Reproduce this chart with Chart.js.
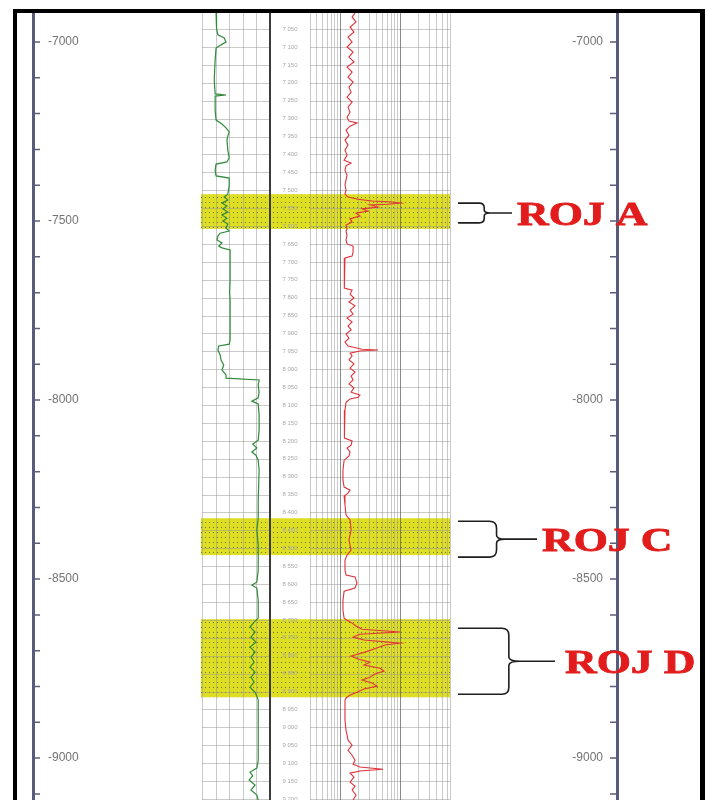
<!DOCTYPE html>
<html>
<head>
<meta charset="utf-8">
<title>Well log – ROJ intervals</title>
<script src="https://cdn.jsdelivr.net/npm/chart.js@4/dist/chart.umd.min.js"></script>
<style>
  html, body { margin: 0; padding: 0; background: #fff; }
  #wrap { position: relative; width: 708px; height: 800px; }
</style>
</head>
<body>
<div id="wrap"><canvas id="log" width="708" height="800"></canvas></div>
<script>
// ---- Subsea depth axis (ft) ----
const depthMin = -9117;
const depthMax = -6919;
const depthTicks = [-9100, -9000, -8900, -8800, -8700, -8600, -8500, -8400, -8300, -8200, -8100,
                    -8000, -7900, -7800, -7700, -7600, -7500, -7400, -7300, -7200, -7100, -7000];
const depthLabelsLeft = [-7000, -7500, -8000, -8500, -9000];
const depthLabelsRight = [-7000, -8000, -8500, -9000];

// ---- Measured-depth grid of the log (ft) and KB offset ----
const kbOffset = 86;
const mdGrid = [7050, 7100, 7150, 7200, 7250, 7300, 7350, 7400, 7450, 7500,
                7550, 7600, 7650, 7700, 7750, 7800, 7850, 7900, 7950, 8000,
                8050, 8100, 8150, 8200, 8250, 8300, 8350, 8400, 8450, 8500,
                8550, 8600, 8650, 8700, 8750, 8800, 8850, 8900, 8950, 9000,
                9050, 9100, 9150, 9200];

// ---- Reservoir intervals (subsea ft) ----
const zoneNames = ['ROJ A', 'ROJ C', 'ROJ D'];
const zoneTop = [-7425, -8330, -8612];
const zoneBase = [-7522, -8433, -8830];

// ---- Track grid values ----
const grGrid = [0, 30, 60, 90, 120, 150];
const resGrid = [0.4, 0.5, 0.6, 0.7, 0.8, 0.9, 1, 2, 3, 4, 5, 6, 7, 8, 9, 10, 20, 30, 40, 50, 60];

// ---- Gamma ray curve (API) ----
const grDepth = [
  -6919, -6939, -6961, -6980, -6989, -7000, -7008, -7017, -7050, -7106,
  -7145, -7148, -7151, -7190, -7218, -7229, -7240, -7251, -7263, -7274,
  -7302, -7324, -7335, -7341, -7358, -7374, -7380, -7402, -7425, -7433,
  -7441, -7450, -7458, -7466, -7475, -7483, -7492, -7500, -7508, -7520,
  -7528, -7534, -7542, -7553, -7561, -7570, -7575, -7581, -7609, -7665,
  -7698, -7721, -7777, -7832, -7844, -7849, -7860, -7874, -7888, -7902,
  -7916, -7930, -7939, -7944, -7958, -7978, -7994, -8003, -8011, -8042,
  -8084, -8112, -8123, -8134, -8145, -8154, -8168, -8196, -8279, -8330,
  -8363, -8405, -8433, -8475, -8508, -8517, -8525, -8559, -8609, -8620,
  -8634, -8648, -8662, -8676, -8690, -8704, -8718, -8732, -8746, -8760,
  -8774, -8788, -8802, -8816, -8827, -8838, -8894, -8950, -9006, -9028,
  -9039, -9050, -9061, -9075, -9089, -9103, -9117];
const grValue = [
  31, 33, 31, 35, 49, 53, 42, 31, 29, 27,
  29, 53, 29, 29, 31, 44, 53, 60, 57, 55,
  57, 60, 55, 31, 29, 31, 60, 60, 57, 49,
  57, 44, 55, 46, 57, 44, 55, 46, 57, 53,
  60, 40, 35, 33, 44, 37, 44, 62, 62, 62,
  61, 62, 62, 62, 60, 37, 35, 40, 42, 48,
  44, 53, 53, 126, 124, 126, 124, 110, 124, 126,
  126, 124, 112, 121, 110, 119, 124, 126, 124, 124,
  121, 124, 124, 124, 121, 110, 121, 124, 124, 115,
  106, 117, 108, 119, 106, 117, 108, 115, 106, 117,
  108, 115, 106, 117, 121, 124, 124, 124, 124, 121,
  106, 112, 104, 117, 108, 121, 124];

// ---- Resistivity curve (ohm.m) ----
const resDepth = [
  -6919, -6930, -6944, -6958, -6972, -6986, -7000, -7014, -7028, -7042,
  -7056, -7070, -7084, -7098, -7112, -7126, -7140, -7154, -7168, -7182,
  -7196, -7210, -7221, -7226, -7235, -7246, -7260, -7274, -7288, -7302,
  -7316, -7330, -7338, -7346, -7358, -7372, -7385, -7399, -7413, -7425,
  -7433, -7439, -7444, -7447, -7450, -7453, -7455, -7461, -7466, -7472,
  -7478, -7486, -7494, -7503, -7511, -7522, -7528, -7539, -7553, -7564,
  -7570, -7587, -7598, -7603, -7615, -7637, -7665, -7687, -7693, -7704,
  -7715, -7726, -7737, -7749, -7760, -7771, -7782, -7793, -7804, -7816,
  -7827, -7838, -7849, -7858, -7860, -7863, -7869, -7877, -7888, -7899,
  -7911, -7922, -7933, -7944, -7955, -7966, -7978, -7986, -7992, -7997,
  -8006, -8028, -8056, -8084, -8106, -8114, -8126, -8134, -8145, -8156,
  -8168, -8196, -8223, -8243, -8251, -8260, -8268, -8293, -8321, -8335,
  -8363, -8391, -8419, -8433, -8447, -8475, -8489, -8494, -8511, -8525,
  -8534, -8559, -8587, -8609, -8615, -8623, -8631, -8640, -8648, -8654,
  -8662, -8670, -8679, -8684, -8693, -8704, -8715, -8723, -8732, -8740,
  -8749, -8757, -8765, -8774, -8782, -8790, -8799, -8807, -8816, -8824,
  -8832, -8838, -8866, -8894, -8922, -8950, -8964, -8978, -8992, -9006,
  -9017, -9025, -9031, -9036, -9042, -9053, -9067, -9078, -9089, -9103,
  -9117];
const resValue = [
  1.78, 1.59, 1.85, 1.47, 1.71, 1.36, 1.59, 1.31, 1.65, 1.41,
  1.71, 1.31, 1.59, 1.36, 1.65, 1.41, 1.53, 1.31, 1.59, 1.36,
  1.47, 1.31, 1.41, 1.92, 1.47, 1.26, 1.41, 1.21, 1.36, 1.21,
  1.31, 1.17, 1.53, 1.26, 1.21, 1.31, 1.26, 1.21, 1.26, 1.21,
  1.36, 2.00, 3.41, 7.36, 10.0, 6.31, 3.16, 4.30, 2.33, 2.93,
  1.85, 2.15, 1.47, 1.59, 1.26, 1.31, 1.26, 1.31, 1.26, 1.31,
  1.65, 1.65, 1.59, 1.21, 1.17, 1.17, 1.17, 1.21, 1.59, 1.47,
  1.71, 1.41, 1.78, 1.47, 1.65, 1.31, 1.59, 1.36, 1.53, 1.26,
  1.41, 1.21, 1.36, 2.33, 4.30, 2.15, 1.47, 1.59, 1.41, 1.71,
  1.47, 1.78, 1.53, 1.65, 1.41, 1.71, 1.53, 2.15, 2.00, 1.47,
  1.26, 1.21, 1.17, 1.21, 1.17, 1.59, 1.53, 1.31, 1.47, 1.41,
  1.17, 1.12, 1.12, 1.17, 1.47, 1.36, 1.17, 1.21, 1.26, 1.47,
  1.53, 1.41, 1.53, 1.31, 1.21, 1.21, 1.26, 1.78, 1.92, 1.78,
  1.17, 1.12, 1.12, 1.17, 1.31, 1.59, 1.85, 2.33, 10.0, 2.15,
  1.65, 2.51, 10.0, 5.62, 3.98, 2.61, 1.53, 2.00, 3.16, 2.51,
  4.64, 5.41, 3.83, 3.16, 2.33, 3.41, 4.14, 2.51, 1.92, 1.47,
  1.26, 1.21, 1.21, 1.21, 1.26, 1.36, 1.59, 1.36, 1.59, 1.78,
  1.65, 2.15, 5.21, 2.15, 1.47, 1.71, 1.47, 1.78, 1.59, 1.85,
  1.65];

// ---- Page layout (pixels) ----
const L = {
  plotLeft: 33, plotRight: 617, plotTop: 13,
  grTrack: [202, 270], grRange: [0, 150],
  resTrack: [310, 450], resRange: [0.316, 68.1],
  braceX: 458,
  braceReach: [32, 47, 62],
  braceInsetTop: [9, 3, 9],
  braceInsetBottom: [6, -2, 3],
  leaderEnd: [512, 537, 555],
  labelX: [517, 542, 565],
  labelStretch: 1.33
};

// Hidden x scales are widened so each track lands on its own strip of the plot.
function linearSpan(track, range) {
  const k = (track[1] - track[0]) / (range[1] - range[0]);
  return { min: range[0] - (track[0] - L.plotLeft) / k,
           max: range[1] + (L.plotRight - track[1]) / k };
}
function logSpan(track, range) {
  const a = Math.log10(range[0]), b = Math.log10(range[1]);
  const k = (track[1] - track[0]) / (b - a);
  return { min: Math.pow(10, a - (track[0] - L.plotLeft) / k),
           max: Math.pow(10, b + (L.plotRight - track[1]) / k) };
}
const grSpan = linearSpan(L.grTrack, L.grRange);
const resSpan = logSpan(L.resTrack, L.resRange);

// Stippled yellow fill for the reservoir intervals
const stipple = (() => {
  const c = document.createElement('canvas');
  c.width = 4; c.height = 5;
  const g = c.getContext('2d');
  g.fillStyle = '#dede22';
  g.fillRect(0, 0, 4, 5);
  g.fillStyle = '#74741a';
  g.fillRect(1, 2, 1, 1);
  return c;
})();

function hLine(ctx, x0, x1, y) { ctx.moveTo(x0, y); ctx.lineTo(x1, y); }
function vLine(ctx, x, y0, y1) { ctx.moveTo(x, y0); ctx.lineTo(x, y1); }
const crisp = v => Math.round(v) + 0.5;

const logTrack = {
  id: 'logTrack',
  beforeDatasetsDraw(chart) {
    const { ctx, chartArea: a, scales: s } = chart;
    const gx0 = s.xGR.getPixelForValue(L.grRange[0]);
    const gx1 = s.xGR.getPixelForValue(L.grRange[1]);
    const rx0 = s.xRes.getPixelForValue(L.resRange[0]);
    const rx1 = s.xRes.getPixelForValue(L.resRange[1]);
    ctx.save();

    // reservoir intervals
    ctx.fillStyle = ctx.createPattern(stipple, 'repeat');
    zoneTop.forEach((t, i) => {
      const y0 = s.y.getPixelForValue(t);
      const y1 = s.y.getPixelForValue(zoneBase[i]);
      ctx.fillRect(gx0 - 1, y0, rx1 - gx0 + 1, y1 - y0);
    });

    // measured-depth grid
    ctx.lineWidth = 1;
    ctx.strokeStyle = 'rgba(150,150,150,0.5)';
    ctx.beginPath();
    mdGrid.forEach(md => {
      const py = crisp(s.y.getPixelForValue(kbOffset - md));
      hLine(ctx, gx0, gx1, py);
      hLine(ctx, rx0, rx1, py);
    });
    ctx.stroke();

    // gamma ray track verticals
    ctx.beginPath();
    grGrid.slice(0, -1).forEach(v => vLine(ctx, crisp(s.xGR.getPixelForValue(v)), a.top, a.bottom));
    ctx.stroke();

    // resistivity (log) track verticals
    ctx.beginPath();
    resGrid.filter(v => v !== 1 && v !== 10)
      .forEach(v => vLine(ctx, crisp(s.xRes.getPixelForValue(v)), a.top, a.bottom));
    vLine(ctx, crisp(rx0), a.top, a.bottom);
    vLine(ctx, crisp(rx1), a.top, a.bottom);
    ctx.stroke();
    ctx.strokeStyle = 'rgba(90,90,90,0.7)';
    ctx.beginPath();
    [1, 10].forEach(v => vLine(ctx, crisp(s.xRes.getPixelForValue(v)), a.top, a.bottom));
    ctx.stroke();

    // depth column border
    ctx.strokeStyle = '#3c3c3c';
    ctx.lineWidth = 2;
    ctx.beginPath();
    vLine(ctx, Math.round(gx1), a.top, a.bottom);
    ctx.stroke();

    // measured-depth labels
    ctx.fillStyle = '#a8a8a8';
    ctx.font = '6px "Liberation Sans", Arial, sans-serif';
    ctx.textAlign = 'center';
    ctx.textBaseline = 'middle';
    const cx = (gx1 + rx0) / 2;
    mdGrid.forEach(md => {
      const py = s.y.getPixelForValue(kbOffset - md);
      const txt = Math.floor(md / 1000) + ' ' + String(md % 1000).padStart(3, '0');
      ctx.fillText(txt, cx, py);
    });
    ctx.restore();
  },
  afterDraw(chart) {
    const { ctx, chartArea: a, scales: s } = chart;
    ctx.save();

    // inward tick marks on both depth axes
    ctx.strokeStyle = '#5a5d7c';
    ctx.lineWidth = 1.5;
    ctx.beginPath();
    s.y.ticks.forEach(t => hLine(ctx, a.left, a.left + 7, s.y.getPixelForValue(t.value)));
    s.yRight.ticks.forEach(t => hLine(ctx, a.right - 7, a.right, s.yRight.getPixelForValue(t.value)));
    ctx.stroke();

    // braces and interval names
    zoneNames.forEach((name, i) => {
      const top = s.y.getPixelForValue(zoneTop[i]) + L.braceInsetTop[i];
      const bot = s.y.getPixelForValue(zoneBase[i]) - L.braceInsetBottom[i];
      const mid = (top + bot) / 2;
      const x0 = L.braceX;
      const reach = L.braceReach[i];
      const xv = x0 + reach * 0.82;
      const xt = x0 + reach;
      const r = Math.min(7, (bot - top) / 4);
      ctx.strokeStyle = '#1e1e1e';
      ctx.lineWidth = 1.6;
      ctx.beginPath();
      ctx.moveTo(x0, top);
      ctx.lineTo(xv - r, top);
      ctx.quadraticCurveTo(xv, top, xv, top + r);
      ctx.lineTo(xv, mid - r * 0.6);
      ctx.quadraticCurveTo(xv, mid, xt, mid);
      ctx.quadraticCurveTo(xv, mid, xv, mid + r * 0.6);
      ctx.lineTo(xv, bot - r);
      ctx.quadraticCurveTo(xv, bot, xv - r, bot);
      ctx.lineTo(x0, bot);
      ctx.moveTo(xt, mid);
      ctx.lineTo(L.leaderEnd[i], mid);
      ctx.stroke();

      ctx.save();
      ctx.translate(L.labelX[i], mid + 12);
      ctx.scale(L.labelStretch, 1);
      ctx.fillStyle = '#e21c1c';
      ctx.strokeStyle = '#e21c1c';
      ctx.lineWidth = 0.8;
      ctx.font = 'bold 33px "Liberation Serif", "Times New Roman", serif';
      ctx.textAlign = 'left';
      ctx.textBaseline = 'alphabetic';
      ctx.fillText(name, 0, 0);
      ctx.strokeText(name, 0, 0);
      ctx.restore();
    });

    // black frame
    ctx.fillStyle = '#000';
    ctx.fillRect(13, 9, 692, 4);
    ctx.fillRect(13, 9, 4, 791);
    ctx.fillRect(700, 9, 5, 791);
    ctx.restore();
  }
};

const depthAxis = (labels, position, padding) => ({
  type: 'linear',
  axis: 'y',
  position,
  min: depthMin,
  max: depthMax,
  grid: { display: false, drawTicks: false },
  border: { display: true, color: '#585b7a', width: 3 },
  afterBuildTicks(scale) {
    scale.ticks = depthTicks.map(v => ({ value: v }));
  },
  ticks: {
    autoSkip: false,
    mirror: true,
    padding,
    color: '#737373',
    font: { family: '"Liberation Sans", Arial, sans-serif', size: 12 },
    callback: v => (labels.includes(v) ? String(v) : '')
  },
  afterFit(scale) {
    scale.width = 0;
    scale.paddingTop = 0;
    scale.paddingBottom = 0;
  }
});

new Chart(document.getElementById('log'), {
  type: 'scatter',
  data: {
    datasets: [
      {
        label: 'GR',
        data: grDepth.map((d, i) => ({ x: grValue[i], y: d })),
        xAxisID: 'xGR',
        yAxisID: 'y',
        showLine: true,
        borderColor: '#2f8a3a',
        borderWidth: 1.2,
        pointRadius: 0,
        tension: 0
      },
      {
        label: 'RES',
        data: resDepth.map((d, i) => ({ x: resValue[i], y: d })),
        xAxisID: 'xRes',
        yAxisID: 'y',
        showLine: true,
        borderColor: '#e0323a',
        borderWidth: 1.1,
        pointRadius: 0,
        tension: 0
      }
    ]
  },
  options: {
    responsive: false,
    animation: false,
    events: [],
    layout: { padding: { left: L.plotLeft, right: 708 - L.plotRight, top: L.plotTop, bottom: 0 } },
    plugins: { legend: { display: false }, tooltip: { enabled: false } },
    scales: {
      xGR: { type: 'linear', axis: 'x', display: false, min: grSpan.min, max: grSpan.max },
      xRes: { type: 'logarithmic', axis: 'x', display: false, min: resSpan.min, max: resSpan.max },
      y: depthAxis(depthLabelsLeft, 'left', 15),
      yRight: depthAxis(depthLabelsRight, 'right', -14)
    }
  },
  plugins: [logTrack]
});
</script>
</body>
</html>
